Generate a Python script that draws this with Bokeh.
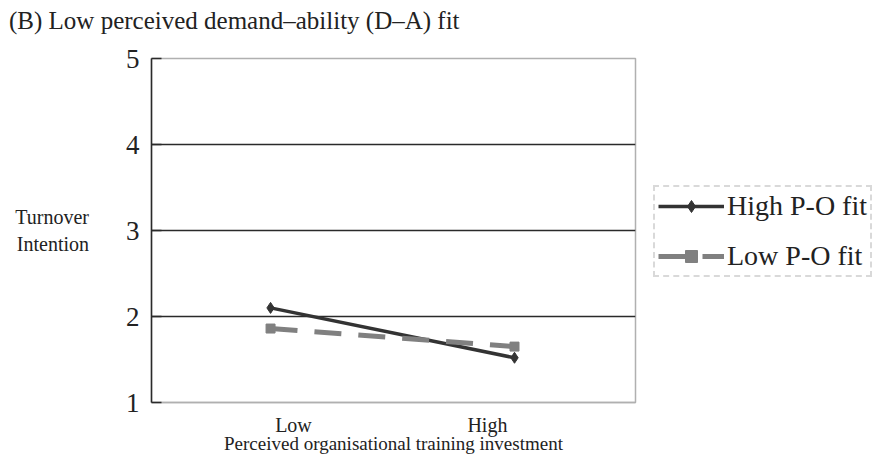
from bokeh.plotting import figure
from bokeh.layouts import row, column
from bokeh.models import (ColumnDataSource, FixedTicker, Legend, LegendItem, Range1d, Div)
from bokeh.embed import file_html
from bokeh.resources import INLINE

# ---- data ----
categories = ["Low", "High"]
high_po_fit = [2.10, 1.52]
low_po_fit = [1.86, 1.65]
y_ticks = [1, 2, 3, 4, 5]
title_text = "(B) Low perceived demand\u2013ability (D\u2013A) fit"
x_label = "Perceived organisational training investment"
y_label = "Turnover\nIntention"
series_names = ["High P-O fit", "Low P-O fit"]

FONT = "Liberation Serif"
x_idx = list(range(len(categories)))
src = ColumnDataSource(dict(x=x_idx, high=high_po_fit, low=low_po_fit))

HIGH_STYLE = dict(line_color="#333333", line_width=3.5)
HIGH_MARK = dict(marker="diamond", size=11, fill_color="#333333", line_color="#333333")
LOW_STYLE = dict(line_color="#808080", line_width=5, line_dash="27 17")
LOW_MARK = dict(marker="square", size=9, fill_color="#808080", line_color="#808080")

TITLE_H = 40

title_div = Div(
    text=('<div style="font-family:\'Liberation Serif\';font-size:25px;color:#222222;'
          'padding:7px 0 0 9px;line-height:1.15;white-space:nowrap;margin:0">'
          + title_text + '</div>'),
    width=894, height=TITLE_H, margin=0)

p = figure(width=637, height=461 - TITLE_H, output_backend="svg", toolbar_location=None,
           x_range=Range1d(-0.488, 1.496), y_range=Range1d(1, 5),
           min_border_left=151, min_border_right=2, min_border_top=58 - TITLE_H,
           min_border_bottom=59)
p.background_fill_color = "white"
p.border_fill_color = "white"
p.outline_line_color = "#b0b0b0"
p.outline_line_width = 1.5

# grid: only interior lines dark
p.xgrid.visible = False
p.ygrid.ticker = FixedTicker(ticks=y_ticks[1:-1])
p.ygrid.grid_line_color = "#2a2a2a"
p.ygrid.grid_line_width = 1.5

# y axis
ya = p.yaxis[0]
ya.ticker = FixedTicker(ticks=y_ticks)
ya.axis_line_color = "#2a2a2a"
ya.axis_line_width = 1.5
ya.major_tick_in = 10
ya.major_tick_out = 0
ya.major_tick_line_color = "#2a2a2a"
ya.major_tick_line_width = 1.5
ya.minor_tick_line_color = None
ya.major_label_text_font = FONT
ya.major_label_text_font_size = "27px"
ya.major_label_text_color = "#222222"
ya.major_label_standoff = 12
ya.axis_label = y_label
ya.axis_label_orientation = "horizontal"
ya.axis_label_text_font = FONT
ya.axis_label_text_font_size = "20px"
ya.axis_label_text_font_style = "normal"
ya.axis_label_text_color = "#222222"
ya.axis_label_standoff = 34

# x axis
xa = p.xaxis[0]
xa.ticker = FixedTicker(ticks=[0.094, 0.889])
xa.major_label_overrides = {0.094: categories[0], 0.889: categories[1]}
xa.axis_line_color = "#b0b0b0"
xa.axis_line_width = 1.5
xa.major_tick_line_color = None
xa.minor_tick_line_color = None
xa.major_label_text_font = FONT
xa.major_label_text_font_size = "20px"
xa.major_label_text_color = "#222222"
xa.major_label_standoff = 5
xa.axis_label = x_label
xa.axis_label_text_font = FONT
xa.axis_label_text_font_size = "19px"
xa.axis_label_text_font_style = "normal"
xa.axis_label_text_color = "#222222"
xa.axis_label_standoff = -6

# series
p.line("x", "high", source=src, **HIGH_STYLE)
p.scatter("x", "high", source=src, **HIGH_MARK)
p.line("x", "low", source=src, **LOW_STYLE)
p.scatter("x", "low", source=src, **LOW_MARK)

# ---- legend panel (separate figure to the right) ----
p2 = figure(width=257, height=461 - TITLE_H, output_backend="svg", toolbar_location=None,
            x_range=Range1d(0, 1), y_range=Range1d(0, 1),
            x_axis_location=None, y_axis_location=None, min_border=0)
p2.outline_line_color = None
p2.grid.visible = False
p2.background_fill_color = "white"
p2.border_fill_color = "white"
# legend-only renderers (data lies outside this panel's range, so only the legend shows)
g1 = p2.line("x", "high", source=src, **HIGH_STYLE)
g2 = p2.scatter("x", "high", source=src, **HIGH_MARK)
g3 = p2.line("x", "low", source=src, **LOW_STYLE)
g4 = p2.scatter("x", "low", source=src, **LOW_MARK)

legend = Legend(items=[LegendItem(label=series_names[0], renderers=[g1, g2]),
                       LegendItem(label=series_names[1], renderers=[g3, g4])],
                location=(16, 125))
legend.label_text_font = FONT
legend.label_text_font_size = "28px"
legend.label_text_color = "#222222"
legend.glyph_width = 66
legend.glyph_height = 30
legend.label_height = 30
legend.label_standoff = 3
legend.spacing = 18
legend.padding = 3
legend.margin = 0
legend.border_line_color = "#b5b5b5"
legend.border_line_width = 2
legend.border_line_dash = "2 1"
legend.background_fill_color = "white"
legend.background_fill_alpha = 1
p2.add_layout(legend, "center")

layout = column(title_div, row(p, p2))
open("out.html", "w").write(file_html(layout, INLINE))
